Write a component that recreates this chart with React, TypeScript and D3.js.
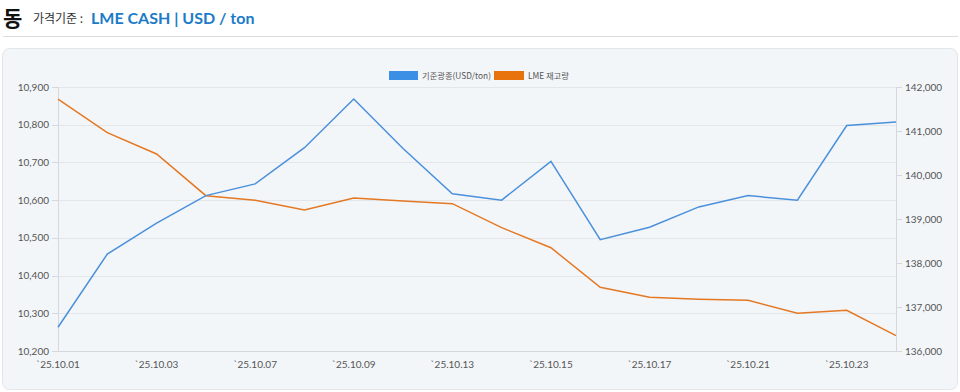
import React from "react";
import * as d3 from "d3";

const dates = ["`25.10.01","`25.10.02","`25.10.03","`25.10.06","`25.10.07","`25.10.08","`25.10.09","`25.10.10","`25.10.13","`25.10.14","`25.10.15","`25.10.16","`25.10.17","`25.10.20","`25.10.21","`25.10.22","`25.10.23","`25.10.24"];
const priceValues = [10263,10457,10539,10612,10643,10739,10868,10737,10617,10600,10703,10495,10528,10582,10612,10600,10798,10807];
const stockValues = [141727,140962,140477,139530,139424,139205,139477,139409,139348,138803,138348,137447,137220,137174,137152,136856,136924,136348];
const leftTicks = [10200,10300,10400,10500,10600,10700,10800,10900];
const rightTicks = [136000,137000,138000,139000,140000,141000,142000];
const seriesNames = ["기준광종(USD/ton)", "LME 재고량"];

const W = 960, H = 392;
const plot = { left: 58, right: 896, top: 87, bottom: 351 };
const BLUE = "#4a90dc";
const ORANGE = "#e47823";
const FONT = "Lato, 'Noto Sans CJK KR', sans-serif";

export default function App() {
  const x = d3.scalePoint<number>().domain(d3.range(dates.length)).range([plot.left, plot.right]);
  const yL = d3.scaleLinear().domain([10200, 10900]).range([plot.bottom, plot.top]);
  const yR = d3.scaleLinear().domain([136000, 142000]).range([plot.bottom, plot.top]);
  const fmt = d3.format(",");
  const lineL = d3.line<number>().x((_, i) => x(i)!).y((d) => yL(d));
  const lineR = d3.line<number>().x((_, i) => x(i)!).y((d) => yR(d));

  return (
    <svg width={W} height={H} style={{ position: "absolute", left: 0, top: 0, display: "block" }} fontFamily={FONT}>
      <rect x={0} y={0} width={W} height={H} fill="#ffffff" />
      {/* header */}
      <text x={3} y={25.5} fontSize={21} fontWeight={700} fill="#111" fontFamily="'Noto Sans CJK KR', sans-serif">동</text>
      <text x={33} y={23} fontSize={12} fill="#333" fontFamily="'Noto Sans CJK KR', sans-serif">가격기준 :</text>
      <text x={91} y={24} fontSize={16} fontWeight={700} fill="#1c7bc8" fontFamily="Lato, sans-serif">LME CASH | USD / ton</text>
      <line x1={3} x2={958} y1={36.5} y2={36.5} stroke="#dcdcdc" />
      {/* panel */}
      <rect x={2.5} y={48.5} width={955} height={341} rx={7} fill="#f3f6f9" stroke="#e2e5e9" />
      {/* legend */}
      <rect x={389} y={71} width={29} height={9} fill="#3b8fe4" />
      <text x={422} y={79} fontSize={8.3} fill="#555" fontFamily="'Noto Sans CJK KR', sans-serif">{seriesNames[0]}</text>
      <rect x={494} y={71} width={30} height={9} fill="#e8730c" />
      <text x={528} y={79} fontSize={8.3} fill="#555" fontFamily="'Noto Sans CJK KR', sans-serif">{seriesNames[1]}</text>
      {/* grid */}
      {leftTicks.map((t) => (
        <line key={"g" + t} x1={plot.left} x2={plot.right} y1={Math.round(yL(t)) + 0.5} y2={Math.round(yL(t)) + 0.5} stroke="#e3e6ea" />
      ))}
      {/* axes */}
      <line x1={plot.left + 0.5} x2={plot.left + 0.5} y1={plot.top} y2={plot.bottom} stroke="#d5d9de" />
      <line x1={plot.right + 0.5} x2={plot.right + 0.5} y1={plot.top} y2={plot.bottom} stroke="#d5d9de" />
      <line x1={plot.left} x2={plot.right} y1={plot.bottom + 0.5} y2={plot.bottom + 0.5} stroke="#d5d9de" />
      {leftTicks.map((t) => (
        <g key={"l" + t}>
          <line x1={plot.left - 6} x2={plot.left} y1={Math.round(yL(t)) + 0.5} y2={Math.round(yL(t)) + 0.5} stroke="#d5d9de" />
          <text x={plot.left - 9} y={yL(t) + 3.5} fontSize={10} fill="#555" textAnchor="end">{fmt(t)}</text>
        </g>
      ))}
      {rightTicks.map((t) => (
        <g key={"r" + t}>
          <line x1={plot.right} x2={plot.right + 6} y1={Math.round(yR(t)) + 0.5} y2={Math.round(yR(t)) + 0.5} stroke="#d5d9de" />
          <text x={plot.right + 9} y={yR(t) + 3.5} fontSize={10} fill="#555">{fmt(t)}</text>
        </g>
      ))}
      {dates.map((d, i) => (i % 2 === 0 && i < dates.length - 1 ? (
        <text key={d} x={x(i)!} y={368} fontSize={10} fill="#555" textAnchor="middle">{d}</text>
      ) : null))}
      {/* lines */}
      <path d={lineR(stockValues)!} fill="none" stroke={ORANGE} strokeWidth={1.5} />
      <path d={lineL(priceValues)!} fill="none" stroke={BLUE} strokeWidth={1.5} />
    </svg>
  );
}
